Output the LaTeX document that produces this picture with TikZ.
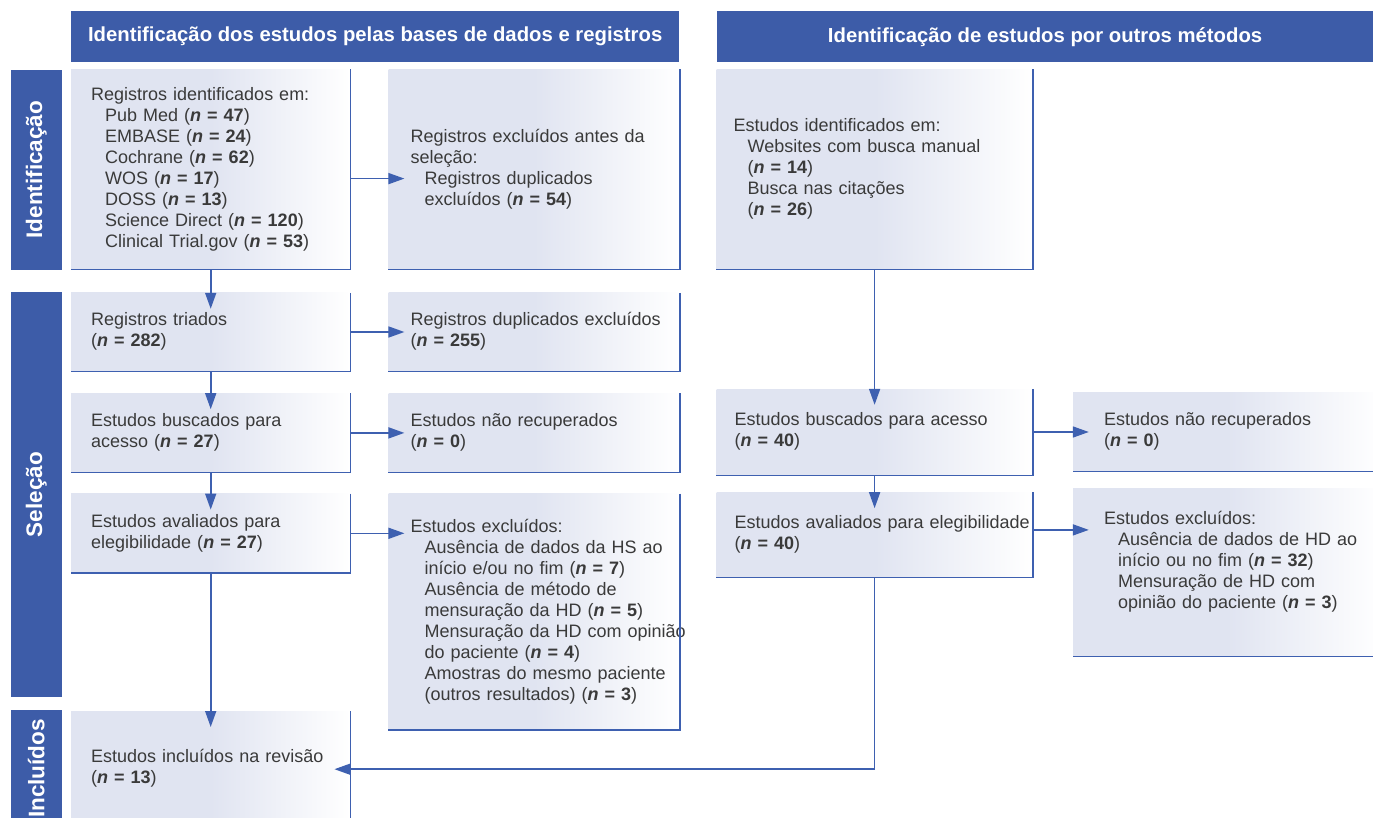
\documentclass[tikz,border=0pt]{standalone}
\usepackage{fontspec}
\setmainfont{Liberation Sans}
\newfontfamily\sidefont{Liberation Sans}
\usepackage{graphicx}
\usepackage{xcolor}
\usetikzlibrary{positioning,arrows.meta}
\setlength{\parindent}{0pt}
\definecolor{headblue}{RGB}{61,92,168}
\definecolor{linecol}{RGB}{62,96,176}
\definecolor{boxbg}{RGB}{224,228,241}
\definecolor{textgrey}{RGB}{58,58,58}
\newcommand{\nn}[1]{(\textbf{\textit{n} = #1})}
\newcommand{\subi}{\hspace*{14pt}}
\tikzset{
    box/.style={
           rectangle,
           left color=boxbg, right color=white, middle color=boxbg,
           inner ysep=0pt,
           align=left,
           text=textgrey,
           font=\fontsize{18}{21}\selectfont,
           },
    head/.style={
           rectangle,
           fill=headblue,
           text=white,
           minimum height=51pt,
           inner sep=0pt,
           anchor=north west,
           font=\bfseries\fontsize{20.3}{24}\selectfont,
           },
    side/.style={
           rectangle,
           fill=headblue,
           text=white,
           minimum width=51pt,
           inner sep=0pt,
           font=\sidefont\bfseries\fontsize{22.5}{24}\selectfont,
           },
    frame/.style={draw=linecol, line width=1.4pt},
    flow/.style={draw=linecol, line width=1.6pt,
           -{Triangle[length=16pt,width=11pt]}, shorten >=-16pt},
}

\begin{document}
\begin{tikzpicture}[x=1pt,y=-1pt]

 \useasboundingbox (0,0) rectangle (1373,818);
 \clip (0,0) rectangle (1373,818);

 % headers
 \node[head, minimum width=608pt] (H1) at (71,11)
 {Identificação dos estudos pelas bases de dados e registros};
 \node[head, minimum width=657pt, right=37pt of H1] (H2)
 {Identificação de estudos por outros métodos};

 % databases and registers
 \node[box, minimum width=279pt, minimum height=200pt, text width=239pt, inner xsep=20pt,
  below=7pt of H1.south west, anchor=north west] (B1)
 {\begin{tabular}{@{}l@{}}
 Registros identificados em:\\
 \subi Pub Med \nn{47}\\
 \subi EMBASE \nn{24}\\
 \subi Cochrane \nn{62}\\
 \subi WOS \nn{17}\\
 \subi DOSS \nn{13}\\
 \subi Science Direct \nn{120}\\
 \subi Clinical Trial.gov \nn{53}
 \end{tabular}};

 \node[box, minimum width=279pt, minimum height=78pt, text width=239pt, inner xsep=20pt,
  below=23pt of B1] (B2)
 {\begin{tabular}{@{}l@{}}
 Registros triados\\
 \nn{282}
 \end{tabular}};

 \node[box, minimum width=279pt, minimum height=79pt, text width=239pt, inner xsep=20pt,
  below=22pt of B2] (B3)
 {\begin{tabular}{@{}l@{}}
 Estudos buscados para\\
 acesso \nn{27}
 \end{tabular}};

 \node[box, minimum width=279pt, minimum height=79pt, text width=239pt, inner xsep=20pt,
  below=21pt of B3] (B4)
 {\begin{tabular}{@{}l@{}}
 Estudos avaliados para\\
 elegibilidade \nn{27}
 \end{tabular}};

 \node[box, minimum width=279pt, minimum height=116pt, text width=239pt, inner xsep=20pt,
  below=138pt of B4] (B5)
 {\begin{tabular}{@{}l@{}}
 Estudos incluídos na revisão\\
 \nn{13}
 \end{tabular}};

 % exclusions
 \node[box, minimum width=291pt, minimum height=200pt, text width=247pt, inner xsep=22pt,
  right=38pt of B1] (E1)
 {\begin{tabular}{@{}l@{}}
 Registros excluídos antes da\\
 seleção:\\
 \subi Registros duplicados\\
 \subi excluídos \nn{54}
 \end{tabular}};

 \node[box, minimum width=291pt, minimum height=78pt, text width=247pt, inner xsep=22pt,
  right=38pt of B2] (E2)
 {\begin{tabular}{@{}l@{}}
 Registros duplicados excluídos\\
 \nn{255}
 \end{tabular}};

 \node[box, minimum width=291pt, minimum height=79pt, text width=247pt, inner xsep=22pt,
  right=38pt of B3] (E3)
 {\begin{tabular}{@{}l@{}}
 Estudos não recuperados\\
 \nn{0}
 \end{tabular}};

 \node[box, minimum width=291pt, minimum height=236pt, text width=247pt, inner xsep=22pt,
  right=38pt of B4.north east, anchor=north west] (E4)
 {\begin{tabular}{@{}l@{}}
 Estudos excluídos:\\
 \subi Ausência de dados da HS ao\\
 \subi início e/ou no fim \nn{7}\\
 \subi Ausência de método de\\
 \subi mensuração da HD \nn{5}\\
 \subi Mensuração da HD com opinião\\
 \subi do paciente \nn{4}\\
 \subi Amostras do mesmo paciente\\
 \subi (outros resultados) \nn{3}
 \end{tabular}};

 % other methods
 \node[box, minimum width=316pt, minimum height=200pt, text width=282pt, inner xsep=17pt,
  below=7pt of H2.south west, anchor=north west] (R1)
 {\begin{tabular}{@{}l@{}}
 Estudos identificados em:\\
 \subi Websites com busca manual\\
 \subi \nn{14}\\
 \subi Busca nas citações\\
 \subi \nn{26}
 \end{tabular}};

 \node[box, minimum width=316pt, minimum height=86pt, text width=280pt, inner xsep=18pt,
  below=119pt of R1] (R2)
 {\begin{tabular}{@{}l@{}}
 Estudos buscados para acesso\\
 \nn{40}
 \end{tabular}};

 \node[box, minimum width=316pt, minimum height=85pt, text width=280pt, inner xsep=18pt,
  below=17pt of R2] (R3)
 {\begin{tabular}{@{}l@{}}
 Estudos avaliados para elegibilidade\\
 \nn{40}
 \end{tabular}};

 \node[box, minimum width=308pt, minimum height=79pt, text width=246pt, inner xsep=31pt,
  right=40pt of R2] (F1)
 {\begin{tabular}{@{}l@{}}
 Estudos não recuperados\\
 \nn{0}
 \end{tabular}};

 \node[box, minimum width=308pt, minimum height=168pt, text width=246pt, inner xsep=31pt,
  right=40pt of R3.north east, anchor=north west, yshift=4pt] (F2)
 {\begin{tabular}{@{}l@{}}
 Estudos excluídos:\\
 \subi Ausência de dados de HD ao\\
 \subi início ou no fim \nn{32}\\
 \subi Mensuração de HD com\\
 \subi opinião do paciente \nn{3}\\
 \mbox{}
 \end{tabular}};

 % phase labels
 \node[side, minimum height=200pt, left=9pt of B1] (S1) {\rotatebox{90}{Identificação}};
 \node[side, minimum height=405pt, below=22pt of S1] (S2) {\rotatebox{90}{Seleção}};
 \node[side, minimum height=116pt, below=13pt of S2] (S3) {\rotatebox{90}{Incluídos}};

 % right and bottom edges
 \foreach \b in {B1,B2,B3,B4,B5,E1,E2,E3,E4,R1,R2,R3,F1,F2}
   \draw[frame] (\b.north east) |- (\b.south west);

 % connectors
 \draw[flow] (B1) -- (B2);
 \draw[flow] (B2) -- (B3);
 \draw[flow] (B3) -- (B4);
 \draw[flow] (B4) -- (B5);
 \draw[flow] ([yshift=-9pt]B1.east) -- ([yshift=-9pt]E1.west);
 \draw[flow] (B2) -- (E2);
 \draw[flow] (B3) -- (E3);
 \draw[flow] (B4.east) -- (B4.east -| E4.west);
 \draw[flow] (R1) -- (R2);
 \draw[flow] (R2) -- (R3);
 \draw[flow] (R2) -- (F1);
 \draw[flow] ([yshift=5pt]R3.east) -- ([yshift=5pt]R3.east -| F2.west);
 \draw[flow] (R3.south) |- (B5.east);

\end{tikzpicture}
\end{document}
